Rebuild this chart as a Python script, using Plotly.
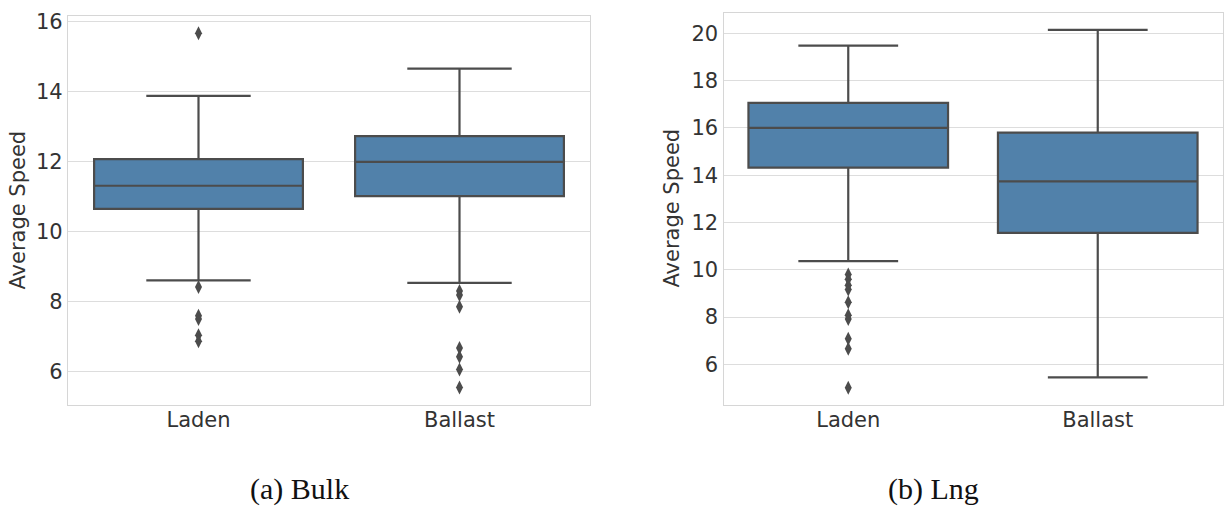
import plotly.graph_objects as go

# ---- data ----
categories = ["Laden", "Ballast"]

bulk_q1 = [10.65, 11.01]
bulk_median = [11.31, 11.99]
bulk_q3 = [12.07, 12.73]
bulk_lower = [8.60, 8.53]
bulk_upper = [13.88, 14.66]
bulk_out_laden = [15.67, 8.41, 7.59, 7.50, 7.03, 6.86]
bulk_out_ballast = [8.30, 8.18, 7.85, 6.67, 6.42, 6.05, 5.54]

lng_q1 = [14.32, 11.56]
lng_median = [16.00, 13.74]
lng_q3 = [17.06, 15.80]
lng_lower = [10.37, 5.45]
lng_upper = [19.48, 20.15]
lng_out_laden = [9.80, 9.60, 9.35, 9.17, 8.63, 8.08, 7.92, 7.08, 6.66, 5.01]
lng_out_ballast = []

bulk_ticks = [6, 8, 10, 12, 14, 16]
lng_ticks = [6, 8, 10, 12, 14, 16, 18, 20]

y_title = "Average Speed"
captions = ["(a) Bulk", "(b) Lng"]

# ---- styling ----
BOX_FILL = "#5181aa"
LINE = "#4c4c4c"
GRID = "#dddddd"
FRAME = "#d6d6d6"
TXT = "#333333"
FS = 21
W, H = 1225, 506

fig = go.Figure()

def add_panel(q1, med, q3, lo, hi, out_l, out_b, xa, ya):
    fig.add_trace(go.Box(
        x=categories, q1=q1, median=med, q3=q3,
        lowerfence=lo, upperfence=hi,
        boxpoints=False, fillcolor=BOX_FILL,
        line=dict(color=LINE, width=2.2), whiskerwidth=0.5,
        xaxis=xa, yaxis=ya, showlegend=False, hoverinfo="skip",
    ))
    xs = [categories[0]] * len(out_l) + [categories[1]] * len(out_b)
    ys = list(out_l) + list(out_b)
    fig.add_trace(go.Scatter(
        x=xs, y=ys, mode="markers",
        marker=dict(symbol="diamond-tall", size=10, color=LINE,
                    line=dict(width=0)),
        xaxis=xa, yaxis=ya, showlegend=False, hoverinfo="skip",
    ))

add_panel(bulk_q1, bulk_median, bulk_q3, bulk_lower, bulk_upper,
          bulk_out_laden, bulk_out_ballast, "x", "y")
add_panel(lng_q1, lng_median, lng_q3, lng_lower, lng_upper,
          lng_out_laden, lng_out_ballast, "x2", "y2")

def px_x(p):
    return p / W

def px_y(p):
    return (H - p) / H

xcommon = dict(type="category", range=[-0.5, 1.5], showgrid=False,
               zeroline=False, showline=True, mirror=True, linecolor=FRAME,
               linewidth=1.3, ticks="", tickfont=dict(family="DejaVu Sans", size=FS, color=TXT),
               ticklabelstandoff=-5)
ycommon = dict(showgrid=True, gridcolor=GRID, gridwidth=1.2, zeroline=False,
               showline=True, mirror=True, linecolor=FRAME, linewidth=1.3,
               ticks="", tickfont=dict(family="DejaVu Sans", size=FS, color=TXT),
               ticklabelstandoff=0)

fig.update_layout(
    width=W, height=H,
    margin=dict(l=0, r=0, t=0, b=0),
    paper_bgcolor="white", plot_bgcolor="white",
    boxgap=0.2, boxgroupgap=0,
    xaxis=dict(domain=[px_x(68), px_x(590)], anchor="y", **xcommon),
    yaxis=dict(domain=[px_y(404), px_y(10)], anchor="x",
               range=[5.03, 16.17], tickvals=bulk_ticks, **ycommon),
    xaxis2=dict(domain=[px_x(723.5), px_x(1222.5)], anchor="y2", **xcommon),
    yaxis2=dict(domain=[px_y(404), px_y(6.7)], anchor="x2",
                range=[4.27, 20.88], tickvals=lng_ticks, **ycommon),
)

annos = [
    dict(text=y_title, x=px_x(18), y=px_y(207), textangle=-90),
    dict(text=y_title, x=px_x(672), y=px_y(205), textangle=-90),
]
for a in annos:
    fig.add_annotation(xref="paper", yref="paper", showarrow=False,
                       xanchor="center", yanchor="middle",
                       font=dict(family="DejaVu Sans", size=FS, color=TXT), **a)

for txt, cx in zip(captions, [299, 933]):
    fig.add_annotation(text=txt, xref="paper", yref="paper",
                       x=px_x(cx), y=px_y(489), showarrow=False,
                       xanchor="center", yanchor="middle",
                       font=dict(family="Liberation Serif", size=30, color="#111111"))

fig.write_html("out.html")
